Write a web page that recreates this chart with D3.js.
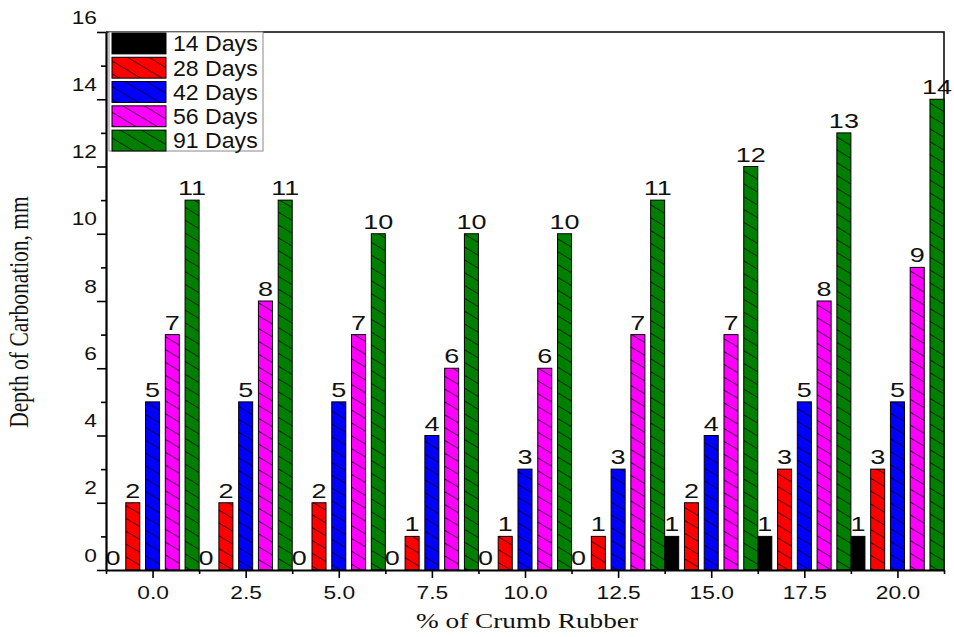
<!DOCTYPE html>
<html>
<head>
<meta charset="utf-8">
<script src="https://cdn.jsdelivr.net/npm/d3@7"></script>
<style>
  html, body { margin: 0; padding: 0; background: #fff; }
  svg { display: block; }
</style>
</head>
<body>
<svg id="chart" width="954" height="637"></svg>
<script>
// Carbonation depth (mm) against crumb rubber content, by curing age
const rubberPct = [0.0, 2.5, 5.0, 7.5, 10.0, 12.5, 15.0, 17.5, 20.0];
const seriesNames = ["14 Days", "28 Days", "42 Days", "56 Days", "91 Days"];
const days14 = [0, 0, 0, 0, 0, 0, 1, 1, 1];
const days28 = [2, 2, 2, 1, 1, 1, 2, 3, 3];
const days42 = [5, 5, 5, 4, 3, 3, 4, 5, 5];
const days56 = [7, 8, 7, 6, 6, 7, 7, 8, 9];
const days91 = [11, 11, 10, 10, 10, 11, 12, 13, 14];
const seriesColors = ["#000000", "#ff0000", "#0000ff", "#ff00ff", "#007f00"];
const yTicksMajor = [0, 2, 4, 6, 8, 10, 12, 14, 16];
const yTicksMinor = [1, 3, 5, 7, 9, 11, 13, 15];
const xTicksMinor = [-1.25, 1.25, 3.75, 6.25, 8.75, 11.25, 13.75, 16.25, 18.75, 21.25];

const seriesValues = [days14, days28, days42, days56, days91];

const svg = d3.select("#chart");
const plot = { left: 106, right: 944, top: 32, bottom: 570 };
const SX = 1.3; // horizontal text stretch

const x = d3.scaleLinear().domain([-1.25, 21.25]).range([plot.left, plot.right]);
const y = d3.scaleLinear().domain([0, 16]).range([plot.bottom, plot.top]);
const groupW = x(2.5) - x(0);
const xSub = d3.scaleBand().domain(seriesNames)
  .range([-groupW / 2, groupW / 2]).paddingInner(0.29).paddingOuter(0);

// Diagonal hatch fills
const defs = svg.append("defs");
seriesNames.forEach((name, i) => {
  const p = defs.append("pattern")
    .attr("id", "hatch" + i)
    .attr("patternUnits", "userSpaceOnUse")
    .attr("width", 40).attr("height", 11)
    .attr("patternTransform", "rotate(31)");
  p.append("rect").attr("width", 40).attr("height", 11).attr("fill", seriesColors[i]);
  p.append("line").attr("x1", 0).attr("x2", 40).attr("y1", 5.5).attr("y2", 5.5)
    .attr("stroke", "#000").attr("stroke-opacity", 0.75).attr("stroke-width", 0.9);
});

// Bars
const rows = [];
seriesNames.forEach((name, si) => {
  rubberPct.forEach((c, ci) => rows.push({ name, si, c, v: seriesValues[si][ci] }));
});

svg.append("g").selectAll("rect")
  .data(rows.filter(d => d.v > 0))
  .join("rect")
  .attr("x", d => x(d.c) + xSub(d.name))
  .attr("width", xSub.bandwidth())
  .attr("y", d => y(d.v))
  .attr("height", d => y(0) - y(d.v))
  .attr("fill", d => `url(#hatch${d.si})`)
  .attr("stroke", "#000")
  .attr("stroke-width", 1);

// Value labels
svg.append("g").selectAll("text")
  .data(rows)
  .join("text")
  .attr("transform", d => `translate(${x(d.c) + xSub(d.name) + xSub.bandwidth() / 2},${y(d.v) - 5}) scale(1.35,1)`)
  .attr("text-anchor", "middle")
  .attr("font-family", "Liberation Sans, Arial, sans-serif")
  .attr("font-size", 20)
  .attr("fill", "#111")
  .text(d => d.v);

// Frame (top and right)
svg.append("path")
  .attr("d", `M${plot.left},${plot.top}H${plot.right}V${plot.bottom}`)
  .attr("fill", "none").attr("stroke", "#000").attr("stroke-width", 1.5);

// Y axis
const yAxisG = svg.append("g").attr("transform", `translate(${plot.left},0)`);
yAxisG.call(d3.axisLeft(y).tickValues(yTicksMajor).tickSize(9).tickSizeOuter(0).tickPadding(0));
yAxisG.append("g").call(d3.axisLeft(y).tickValues(yTicksMinor).tickSize(5).tickSizeOuter(0).tickFormat(""))
  .select(".domain").remove();
yAxisG.selectAll(".domain").attr("stroke-width", 2.2);
yAxisG.selectAll(".tick line").attr("stroke-width", 1.6);
yAxisG.selectAll(".tick text")
  .attr("x", null).attr("dy", "0.35em")
  .attr("transform", `translate(-9,-15) scale(${SX},1)`)
  .attr("font-family", "Liberation Sans, Arial, sans-serif")
  .attr("font-size", 17.5).attr("fill", "#111");

// X axis
const xAxisG = svg.append("g").attr("transform", `translate(0,${plot.bottom})`);
xAxisG.call(d3.axisBottom(x).tickValues(rubberPct).tickSize(8).tickSizeOuter(0).tickPadding(0)
  .tickFormat(d3.format(".1f")));
xAxisG.append("g").call(d3.axisBottom(x).tickValues(xTicksMinor).tickSize(4).tickSizeOuter(0).tickFormat(""))
  .select(".domain").remove();
xAxisG.selectAll(".domain").attr("stroke-width", 2.2);
xAxisG.selectAll(".tick line").attr("stroke-width", 1.6);
xAxisG.selectAll(".tick text")
  .attr("y", null).attr("dy", null)
  .attr("transform", `translate(0,29) scale(${SX},1)`)
  .attr("font-family", "Liberation Sans, Arial, sans-serif")
  .attr("font-size", 17.5).attr("fill", "#111");

// Axis titles
svg.append("text")
  .attr("transform", `translate(${(plot.left + plot.right) / 2 + 2},628) scale(${SX},1)`)
  .attr("text-anchor", "middle")
  .attr("font-family", "Liberation Serif, Times New Roman, serif")
  .attr("font-size", 21).attr("fill", "#111")
  .text("% of Crumb Rubber");

svg.append("text")
  .attr("transform", `translate(28,312) scale(${SX},1) rotate(-90)`)
  .attr("text-anchor", "middle")
  .attr("font-family", "Liberation Serif, Times New Roman, serif")
  .attr("font-size", 21.5).attr("fill", "#111")
  .text("Depth of Carbonation, mm");

// Legend
const lg = svg.append("g");
lg.append("rect").attr("x", 109).attr("y", 32).attr("width", 154).attr("height", 119)
  .attr("fill", "#fff").attr("stroke", "#888").attr("stroke-width", 1);
const legendY = d3.scaleBand().domain(seriesNames).range([33, 151]).paddingInner(0.14).paddingOuter(0);
const item = lg.selectAll("g.item").data(seriesNames).join("g").attr("class", "item");
item.append("rect")
  .attr("x", 112).attr("y", d => legendY(d))
  .attr("width", 54).attr("height", legendY.bandwidth())
  .attr("fill", (d, i) => `url(#hatch${i})`)
  .attr("stroke", "#000").attr("stroke-width", 1);
item.append("text")
  .attr("transform", d => `translate(173,${legendY(d) + legendY.bandwidth() / 2}) scale(1.05,1)`)
  .attr("dy", "0.36em")
  .attr("font-family", "Liberation Sans, Arial, sans-serif")
  .attr("font-size", 22).attr("fill", "#111")
  .text(d => d);
</script>
</body>
</html>
